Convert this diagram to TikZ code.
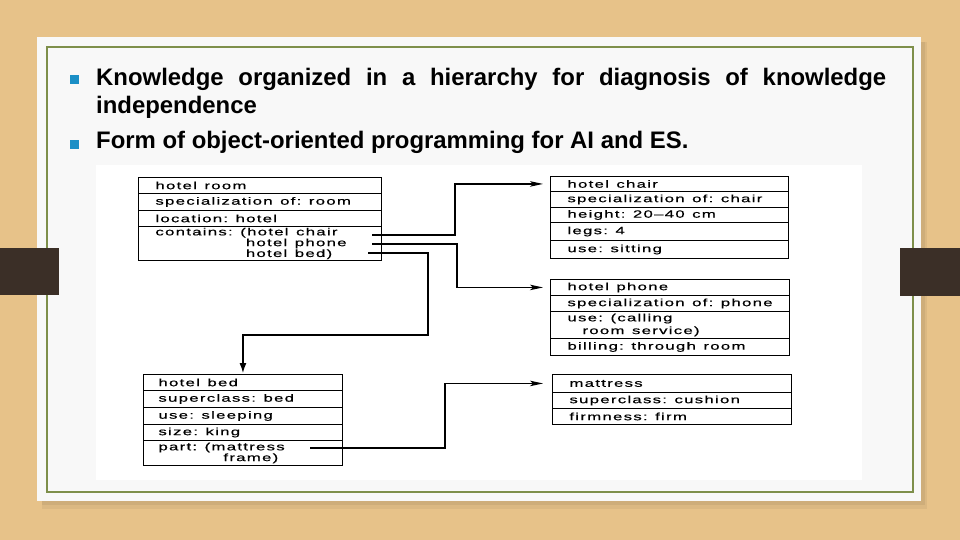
\documentclass[tikz,border=0pt]{standalone}
\usepackage{fontspec}
\setmainfont{Liberation Sans}
\newfontfamily\diagfont[FakeStretch=1.6,LetterSpace=12,FakeBold=0.5]{Liberation Sans}
\newcommand\diagsetup{\diagfont\fontsize{10.5}{8.5}\selectfont}
\newcommand\wsp{\nobreak\hspace{7.5pt}\nobreak}
\usetikzlibrary{arrows.meta,calc}
\definecolor{wood}{HTML}{E7C289}
\definecolor{card}{HTML}{F8F8F8}
\definecolor{frameg}{HTML}{7E8F4B}
\definecolor{barbrown}{HTML}{3B2F27}
\definecolor{bulletblue}{HTML}{1B8FC6}
\tikzset{
  heading/.style={anchor=base west, inner sep=0pt, font=\fontsize{23.9}{28}\selectfont\bfseries},
  bulletsq/.style={fill=bulletblue, minimum size=9pt, inner sep=0pt},
  row/.style={draw=black, line width=0.9pt, anchor=north west, inner xsep=17pt, inner ysep=0pt,
    align=left, font=\diagsetup},
  conn/.style={line width=1.2pt, draw=black},
  harrow/.style={-{Stealth[length=13pt,width=5.5pt,inset=3pt]}, shorten >=7pt},
  varrow/.style={-{Latex[length=10pt,width=7pt]}, shorten >=1pt}
}
\begin{document}
\begin{tikzpicture}[x=1pt,y=-1pt]
\useasboundingbox (0,0) rectangle (960,540);
% background
\fill[wood] (0,0) rectangle (960,540);
\fill[black, opacity=0.05] (42,42) rectangle (927,509);
\fill[black, opacity=0.06] (42,42) rectangle (925,505);
\fill[card] (37,37) rectangle (921,501);
\draw[frameg, line width=2pt] (47,47) rectangle (913,492);
\fill[barbrown] (0,248) rectangle (59,295);
\fill[barbrown] (900,248) rectangle (960,296);
% heading
\node[bulletsq] (b1) at (74,79.5) {};
\node[bulletsq] (b2) at (74,144.5) {};
\node[heading] (l1) at (96,86) {\makebox[790pt][s]{Knowledge organized in a hierarchy for diagnosis of knowledge}};
\node[heading] (l2) at (96,114) {independence};
\node[heading] (l3) at (96,149) {Form of object-oriented programming for AI and ES.};
% figure area
\fill[white] (96,165) rectangle (862,480);
% box hotel room
\node[row, text width=209pt, minimum height=16pt] (hr1) at (138,177) {hotel\wsp room};
\node[row, text width=209pt, minimum height=17pt] (hr2) at (138,193) {specialization\wsp of:\wsp room};
\node[row, text width=209pt, minimum height=16pt] (hr3) at (138,210) {location:\wsp hotel};
\node[row, text width=209pt, minimum height=34pt] (hr4) at (138,226) {contains:\wsp(hotel\wsp chair\\\phantom{contains:\wsp(}hotel\wsp phone\\\phantom{contains:\wsp(}hotel\wsp bed)};
% box hotel chair
\node[row, text width=204pt, minimum height=15pt] (ch1) at (550,176) {hotel\wsp chair};
\node[row, text width=204pt, minimum height=16pt] (ch2) at (550,191) {specialization\wsp of:\wsp chair};
\node[row, text width=204pt, minimum height=15pt] (ch3) at (550,207) {height:\wsp 20–40\wsp cm};
\node[row, text width=204pt, minimum height=18pt] (ch4) at (550,222) {legs:\wsp 4};
\node[row, text width=204pt, minimum height=18pt] (ch5) at (550,240) {use:\wsp sitting};
% box hotel phone
\node[row, text width=205pt, minimum height=16pt] (ph1) at (550,279) {hotel\wsp phone};
\node[row, text width=205pt, minimum height=16pt] (ph2) at (550,295) {specialization\wsp of:\wsp phone};
\node[row, text width=205pt, minimum height=27pt] (ph3) at (550,311) {use:\wsp(calling\\[2pt]\hspace*{15pt}room\wsp service)};
\node[row, text width=205pt, minimum height=17pt] (ph4) at (550,338) {billing:\wsp through\wsp room};
% box hotel bed
\node[row, minimum height=16pt, inner xsep=15pt, text width=169pt] (bd1) at (143,374) {hotel\wsp bed};
\node[row, minimum height=17pt, inner xsep=15pt, text width=169pt] (bd2) at (143,390) {superclass:\wsp bed};
\node[row, minimum height=17pt, inner xsep=15pt, text width=169pt] (bd3) at (143,407) {use:\wsp sleeping};
\node[row, minimum height=16pt, inner xsep=15pt, text width=169pt] (bd4) at (143,424) {size:\wsp king};
\node[row, minimum height=25pt, inner xsep=15pt, text width=169pt] (bd5) at (143,440) {part:\wsp(mattress\\\hspace*{65pt}frame)};
% box mattress
\node[row, text width=205pt, minimum height=18pt] (ma1) at (552,374) {mattress};
\node[row, text width=205pt, minimum height=16pt] (ma2) at (552,392) {superclass:\wsp cushion};
\node[row, text width=205pt, minimum height=16pt] (ma3) at (552,408) {firmness:\wsp firm};
% connector start points
\coordinate (c1) at (372,235);
\coordinate (c2) at (372,244);
\coordinate (c3) at (368,253);
\coordinate (c4) at (310,448);
% connectors
\draw[conn, harrow] (c1) -- ++(83,0) |- (ch1.west);
\draw[conn, harrow] (c2) -- ++(85,0) |- (ph1.west);
\draw[conn, varrow] (c3) -- ++(60,0) -- ++(0,82) -| (bd1.north);
\draw[conn, harrow, shorten >=9pt] (c4) -- ++(135,0) |- (ma1.west);
\end{tikzpicture}
\end{document}
